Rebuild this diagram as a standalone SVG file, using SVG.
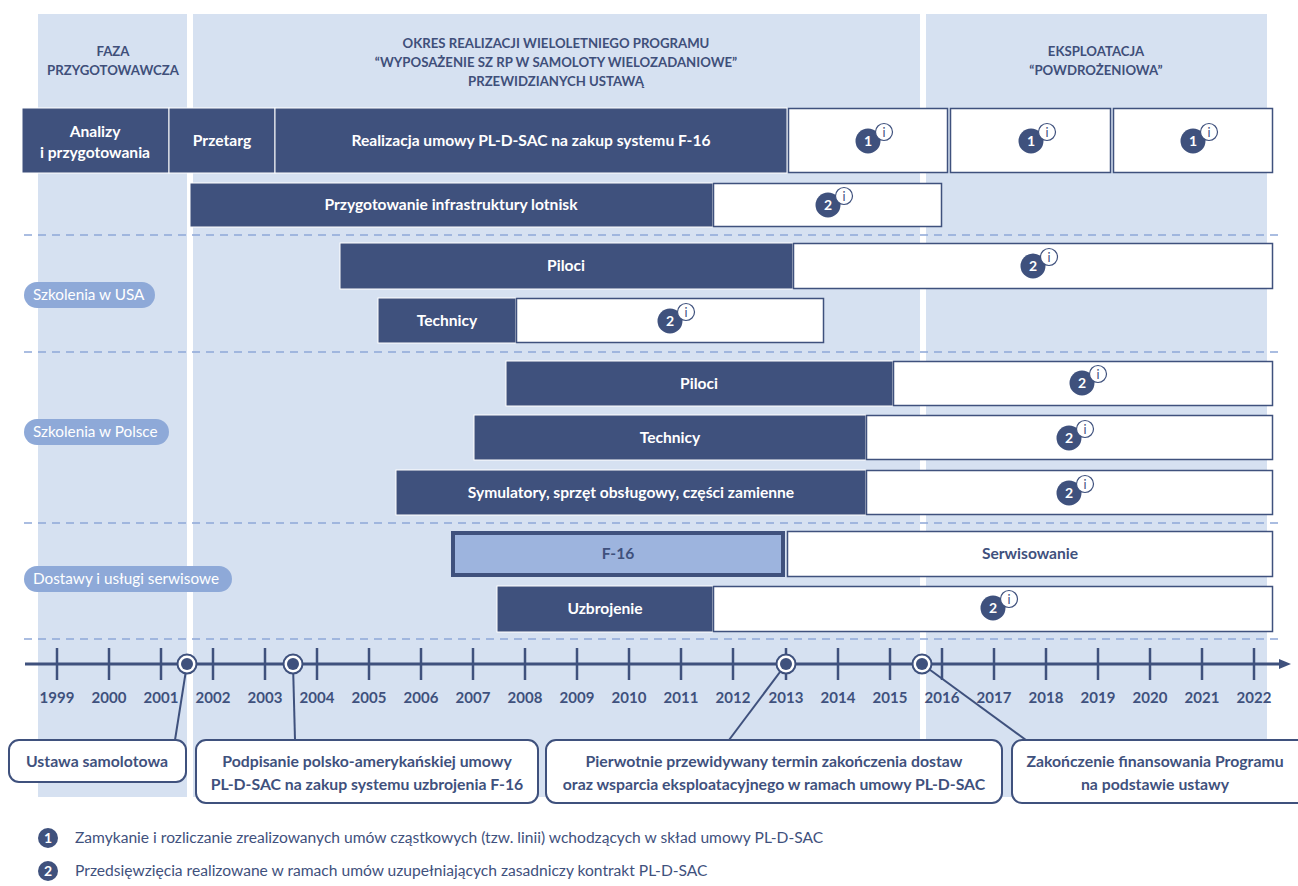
<svg xmlns="http://www.w3.org/2000/svg" width="1298" height="886" viewBox="0 0 1298 886">
<style>
.panel{fill:#d6e1f1}
.dark{fill:#3f517d;stroke:#ffffff;stroke-width:1}
.wbox{fill:#ffffff;stroke:#3f517d;stroke-width:1.5}
.hdr{font-family:Lato,"Liberation Sans",sans-serif;font-weight:700;font-size:13.2px;fill:#3f4f7a;text-anchor:middle}
.bt{font-family:Lato,"Liberation Sans",sans-serif;font-weight:700;font-size:15.6px;fill:#ffffff;text-anchor:middle}
.dt{font-family:Lato,"Liberation Sans",sans-serif;font-weight:700;font-size:15.6px;fill:#3f517d;text-anchor:middle}
.pill{fill:#8ea9d8}
.pt{font-family:Lato,"Liberation Sans",sans-serif;font-size:15.3px;fill:#ffffff}
.dash{stroke:#8fa8d8;stroke-width:1.5;stroke-dasharray:8 6;fill:none}
.tick{stroke:#3f517d;stroke-width:2.5}
.yr{font-family:Lato,"Liberation Sans",sans-serif;font-weight:700;font-size:15px;fill:#3f517d;text-anchor:middle}
.call{fill:#ffffff;stroke:#3f517d;stroke-width:2}
.ct{font-family:Lato,"Liberation Sans",sans-serif;font-weight:700;font-size:15.8px;fill:#3f517d;text-anchor:middle}
.lead{stroke:#3f517d;stroke-width:2;fill:none}
.lg{font-family:Lato,"Liberation Sans",sans-serif;font-size:15.6px;fill:#3f517d}
.bn{fill:#3f517d}
.bnt{font-family:Lato,"Liberation Sans",sans-serif;font-weight:700;font-size:14px;fill:#ffffff;text-anchor:middle}
.ic{fill:#ffffff;stroke:#3f517d;stroke-width:1.2}
.it{font-family:Lato,"Liberation Sans",sans-serif;font-size:12.5px;fill:#3f517d;text-anchor:middle}
</style>
<defs>
<g id="b1">
<circle class="bn" cx="0" cy="0" r="12.5"/>
<text class="bnt" x="0" y="5">1</text>
<circle class="ic" cx="16" cy="-9" r="8.5"/>
<text class="it" x="16" y="-4.5">i</text>
</g>
<g id="b2">
<circle class="bn" cx="0" cy="0" r="12.5"/>
<text class="bnt" x="0" y="5">2</text>
<circle class="ic" cx="16" cy="-9" r="8.5"/>
<text class="it" x="16" y="-4.5">i</text>
</g>
<marker id="arr" markerWidth="12" markerHeight="10" refX="1" refY="5" orient="auto" markerUnits="userSpaceOnUse">
<path d="M0,0 L12,5 L0,10 Z" fill="#3f517d"/>
</marker>
</defs>
<rect width="1298" height="886" fill="#ffffff"/>

<g id="panels">
<rect class="panel" x="38" y="14" width="149" height="783"/>
<rect class="panel" x="193" y="14" width="727" height="783"/>
<rect class="panel" x="926" y="14" width="341" height="783"/>
<text class="hdr" x="113" y="56">FAZA</text>
<text class="hdr" x="113" y="75">PRZYGOTOWAWCZA</text>
<text class="hdr" x="556" y="48">OKRES REALIZACJI WIELOLETNIEGO PROGRAMU</text>
<text class="hdr" x="556" y="67">“WYPOSAŻENIE SZ RP W SAMOLOTY WIELOZADANIOWE”</text>
<text class="hdr" x="556" y="86">PRZEWIDZIANYCH USTAWĄ</text>
<text class="hdr" x="1096" y="56">EKSPLOATACJA</text>
<text class="hdr" x="1096" y="75">“POWDROŻENIOWA”</text>
</g>

<g id="separators">
<line class="dash" x1="24" y1="235" x2="1280" y2="235"/>
<line class="dash" x1="24" y1="352" x2="1280" y2="352"/>
<line class="dash" x1="24" y1="523" x2="1280" y2="523"/>
<line class="dash" x1="24" y1="639" x2="1280" y2="639"/>
</g>

<g id="pill-usa"><rect class="pill" x="24" y="282" width="131" height="26" rx="13"/><text class="pt" x="33" y="300">Szkolenia w USA</text></g>
<g id="pill-polska"><rect class="pill" x="24" y="419" width="145" height="26" rx="13"/><text class="pt" x="33" y="437">Szkolenia w Polsce</text></g>
<g id="pill-dostawy"><rect class="pill" x="24" y="566" width="208" height="26" rx="13"/><text class="pt" x="33" y="584">Dostawy i usługi serwisowe</text></g>

<g id="row1">
<rect class="dark" x="22" y="108" width="147" height="65"/>
<text class="bt" x="95" y="137">Analizy</text>
<text class="bt" x="95" y="158">i przygotowania</text>
<rect class="dark" x="169" y="108" width="106" height="65"/>
<text class="bt" x="222" y="146">Przetarg</text>
<rect class="dark" x="275" y="108" width="512" height="65"/>
<text class="bt" x="531" y="146">Realizacja umowy PL-D-SAC na zakup systemu F-16</text>
<rect class="wbox" x="788.5" y="108.5" width="159" height="64"/>
<use href="#b1" x="868" y="141"/>
<rect class="wbox" x="950.5" y="108.5" width="160" height="64"/>
<use href="#b1" x="1031" y="141"/>
<rect class="wbox" x="1113.5" y="108.5" width="159" height="64"/>
<use href="#b1" x="1193" y="141"/>
</g>

<g id="row2">
<rect class="dark" x="190" y="183" width="523" height="44"/>
<text class="bt" x="451" y="210">Przygotowanie infrastruktury lotnisk</text>
<rect class="wbox" x="713.5" y="183.5" width="228" height="43"/>
<use href="#b2" x="828" y="205"/>
</g>

<g id="row3">
<rect class="dark" x="340" y="243" width="453" height="46"/>
<text class="bt" x="566" y="271">Piloci</text>
<rect class="wbox" x="793.5" y="243.5" width="479" height="45"/>
<use href="#b2" x="1033" y="266"/>
</g>

<g id="row4">
<rect class="dark" x="378" y="298" width="138" height="45"/>
<text class="bt" x="447" y="326">Technicy</text>
<rect class="wbox" x="516.5" y="298.5" width="307" height="44"/>
<use href="#b2" x="670" y="321"/>
</g>

<g id="row5">
<rect class="dark" x="506" y="361" width="387" height="45"/>
<text class="bt" x="699" y="389">Piloci</text>
<rect class="wbox" x="893.5" y="361.5" width="379" height="44"/>
<use href="#b2" x="1082" y="383"/>
</g>

<g id="row6">
<rect class="dark" x="474" y="415" width="392" height="45"/>
<text class="bt" x="670" y="443">Technicy</text>
<rect class="wbox" x="866.5" y="415.5" width="406" height="44"/>
<use href="#b2" x="1069" y="438"/>
</g>

<g id="row7">
<rect class="dark" x="396" y="470" width="470" height="45"/>
<text class="bt" x="631" y="498">Symulatory, sprzęt obsługowy, części zamienne</text>
<rect class="wbox" x="866.5" y="470.5" width="406" height="44"/>
<use href="#b2" x="1069" y="493"/>
</g>

<g id="row8">
<rect x="453" y="533" width="330" height="42" fill="#9db4de" stroke="#3f517d" stroke-width="4"/>
<text class="dt" x="618" y="559">F-16</text>
<rect class="wbox" x="787.5" y="531.5" width="485" height="45"/>
<text class="dt" x="1030" y="559">Serwisowanie</text>
</g>

<g id="row9">
<rect class="dark" x="497" y="586" width="216" height="46"/>
<text class="bt" x="605" y="614">Uzbrojenie</text>
<rect class="wbox" x="713.5" y="586.5" width="559" height="45"/>
<use href="#b2" x="993" y="608"/>
</g>

<g id="timeline">
<line x1="25" y1="664" x2="1280" y2="664" stroke="#3f517d" stroke-width="3" marker-end="url(#arr)"/>
<g>
<line class="tick" x1="57" y1="648" x2="57" y2="680"/>
<line class="tick" x1="109" y1="648" x2="109" y2="680"/>
<line class="tick" x1="161" y1="648" x2="161" y2="680"/>
<line class="tick" x1="213" y1="648" x2="213" y2="680"/>
<line class="tick" x1="265" y1="648" x2="265" y2="680"/>
<line class="tick" x1="317" y1="648" x2="317" y2="680"/>
<line class="tick" x1="369" y1="648" x2="369" y2="680"/>
<line class="tick" x1="421" y1="648" x2="421" y2="680"/>
<line class="tick" x1="473" y1="648" x2="473" y2="680"/>
<line class="tick" x1="525" y1="648" x2="525" y2="680"/>
<line class="tick" x1="577" y1="648" x2="577" y2="680"/>
<line class="tick" x1="629" y1="648" x2="629" y2="680"/>
<line class="tick" x1="681" y1="648" x2="681" y2="680"/>
<line class="tick" x1="733" y1="648" x2="733" y2="680"/>
<line class="tick" x1="786" y1="648" x2="786" y2="680"/>
<line class="tick" x1="838" y1="648" x2="838" y2="680"/>
<line class="tick" x1="890" y1="648" x2="890" y2="680"/>
<line class="tick" x1="942" y1="648" x2="942" y2="680"/>
<line class="tick" x1="994" y1="648" x2="994" y2="680"/>
<line class="tick" x1="1046" y1="648" x2="1046" y2="680"/>
<line class="tick" x1="1098" y1="648" x2="1098" y2="680"/>
<line class="tick" x1="1150" y1="648" x2="1150" y2="680"/>
<line class="tick" x1="1202" y1="648" x2="1202" y2="680"/>
<line class="tick" x1="1254" y1="648" x2="1254" y2="680"/>
</g>
<g>
<text class="yr" x="57" y="703">1999</text>
<text class="yr" x="109" y="703">2000</text>
<text class="yr" x="161" y="703">2001</text>
<text class="yr" x="213" y="703">2002</text>
<text class="yr" x="265" y="703">2003</text>
<text class="yr" x="317" y="703">2004</text>
<text class="yr" x="369" y="703">2005</text>
<text class="yr" x="421" y="703">2006</text>
<text class="yr" x="473" y="703">2007</text>
<text class="yr" x="525" y="703">2008</text>
<text class="yr" x="577" y="703">2009</text>
<text class="yr" x="629" y="703">2010</text>
<text class="yr" x="681" y="703">2011</text>
<text class="yr" x="733" y="703">2012</text>
<text class="yr" x="786" y="703">2013</text>
<text class="yr" x="838" y="703">2014</text>
<text class="yr" x="890" y="703">2015</text>
<text class="yr" x="942" y="703">2016</text>
<text class="yr" x="994" y="703">2017</text>
<text class="yr" x="1046" y="703">2018</text>
<text class="yr" x="1098" y="703">2019</text>
<text class="yr" x="1150" y="703">2020</text>
<text class="yr" x="1202" y="703">2021</text>
<text class="yr" x="1254" y="703">2022</text>
</g>
</g>

<g id="connectors">
<line class="lead" x1="187" y1="664" x2="175" y2="740"/>
<line class="lead" x1="293" y1="664" x2="295" y2="740"/>
<line class="lead" x1="786" y1="664" x2="729" y2="740"/>
<line class="lead" x1="922" y1="664" x2="1026" y2="740"/>
</g>

<g id="markers">
<g><circle cx="187" cy="664" r="9.5" fill="#ffffff" stroke="#3f517d" stroke-width="2"/><circle cx="187" cy="664" r="6" fill="#3f517d"/></g>
<g><circle cx="293" cy="664" r="9.5" fill="#ffffff" stroke="#3f517d" stroke-width="2"/><circle cx="293" cy="664" r="6" fill="#3f517d"/></g>
<g><circle cx="786" cy="664" r="9.5" fill="#ffffff" stroke="#3f517d" stroke-width="2"/><circle cx="786" cy="664" r="6" fill="#3f517d"/></g>
<g><circle cx="922" cy="664" r="9.5" fill="#ffffff" stroke="#3f517d" stroke-width="2"/><circle cx="922" cy="664" r="6" fill="#3f517d"/></g>
</g>

<g id="callout-ustawa">
<rect class="call" x="9" y="740" width="177" height="42" rx="10"/>
<text class="ct" x="97" y="767">Ustawa samolotowa</text>
</g>
<g id="callout-podpisanie">
<rect class="call" x="196" y="740" width="342" height="63" rx="10"/>
<text class="ct" x="367" y="767">Podpisanie polsko-amerykańskiej umowy</text>
<text class="ct" x="367" y="790">PL-D-SAC na zakup systemu uzbrojenia F-16</text>
</g>
<g id="callout-pierwotnie">
<rect class="call" x="546" y="740" width="456" height="63" rx="10"/>
<text class="ct" x="774" y="767">Pierwotnie przewidywany termin zakończenia dostaw</text>
<text class="ct" x="774" y="790">oraz wsparcia eksploatacyjnego w ramach umowy PL-D-SAC</text>
</g>
<g id="callout-zakonczenie">
<rect class="call" x="1012" y="740" width="296" height="63" rx="10"/>
<text class="ct" x="1155" y="767">Zakończenie finansowania Programu</text>
<text class="ct" x="1155" y="790">na podstawie ustawy</text>
</g>

<g id="legend">
<circle class="bn" cx="48" cy="838" r="10"/>
<text class="bnt" x="48" y="843">1</text>
<text class="lg" x="75" y="843">Zamykanie i rozliczanie zrealizowanych umów cząstkowych (tzw. linii) wchodzących w skład umowy PL-D-SAC</text>
<circle class="bn" cx="48" cy="871" r="10"/>
<text class="bnt" x="48" y="876">2</text>
<text class="lg" x="75" y="876">Przedsięwzięcia realizowane w ramach umów uzupełniających zasadniczy kontrakt PL-D-SAC</text>
</g>
</svg>
